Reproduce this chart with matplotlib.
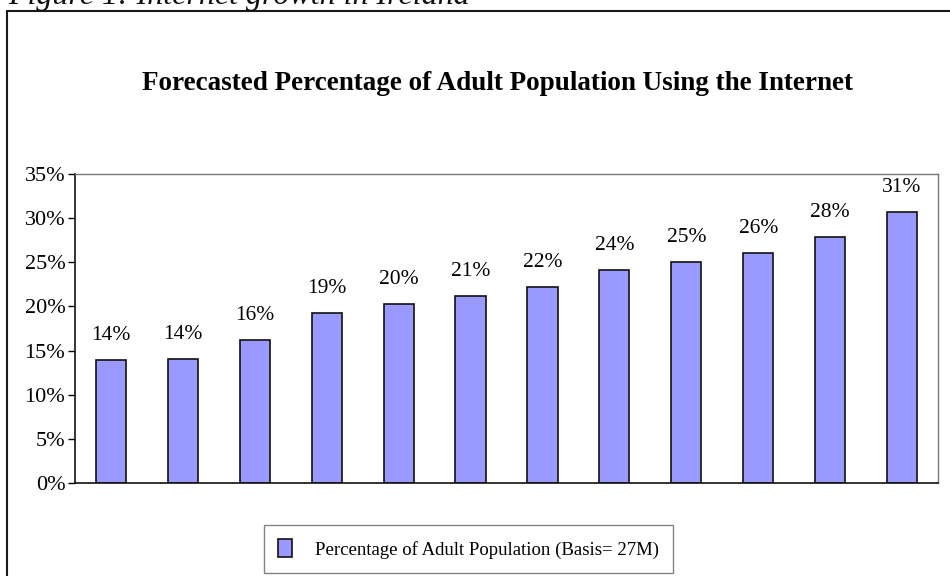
import numpy as np
import matplotlib.pyplot as plt
from matplotlib.patches import Rectangle

# Forecast share of adults online, one bar per period
periods = list(range(1, 13))
usage_pct = [13.9, 14.0, 16.2, 19.3, 20.3, 21.2, 22.2, 24.1, 25.0, 26.0, 27.9, 30.7]
y_ticks = [0, 5, 10, 15, 20, 25, 30, 35]

plt.rcParams['font.family'] = ['Liberation Serif', 'DejaVu Serif']

fig = plt.figure(figsize=(9.5, 5.76), dpi=100)
W, H = 950, 576

# Outer border around the chart (runs off the right/bottom edge)
fig.patches.append(Rectangle((7 / W, -0.05), 1.1, 1 - 11 / H + 0.05,
                             transform=fig.transFigure, fill=False,
                             edgecolor='#1a1a1a', linewidth=1.5))

# Caption sitting above the frame
fig.text(8 / W, 1 - 4 / H, 'Figure 1: Internet growth in Ireland',
         fontsize=23, style='italic', ha='left', va='baseline', color='#111111')

fig.text(0.5235, 1 - 83 / H,
         'Forecasted Percentage of Adult Population Using the Internet',
         fontsize=19.5, fontweight='bold', ha='center', va='center')

ax = fig.add_axes([75 / W, 1 - 483 / H, (938 - 75) / W, (483 - 174) / H])
x = np.arange(len(periods))
bars = ax.bar(x, usage_pct, width=0.42, color='#9999FF', edgecolor='#111111',
              linewidth=1.2, label='Percentage of Adult Population (Basis= 27M)')

for xi, v in zip(x, usage_pct):
    ax.text(xi, v + 1.7, f'{v:.0f}%', ha='center', va='bottom', fontsize=15.5)

ax.set_xlim(-0.5, len(periods) - 0.5)
ax.set_ylim(0, 35)
ax.set_yticks(y_ticks)
ax.set_yticklabels([f'{t}%' for t in y_ticks], fontsize=16)
ax.set_xticks([])
ax.tick_params(axis='y', direction='out', length=5, width=1, pad=2)

for side in ['left', 'bottom']:
    ax.spines[side].set_color('#111111')
    ax.spines[side].set_linewidth(1.2)
for side in ['top', 'right']:
    ax.spines[side].set_color('#777777')
    ax.spines[side].set_linewidth(1.0)

leg = fig.legend(handles=[bars], loc='center',
                 bbox_to_anchor=(468.5 / W, 1 - 549 / H), frameon=True,
                 fancybox=False, fontsize=13.5, handlelength=0.75, handleheight=1.1,
                 borderpad=0.75, handletextpad=1.2, borderaxespad=0)
leg.get_frame().set_edgecolor('#666666')
leg.get_frame().set_linewidth(1.0)

plt.savefig('out.png', dpi=100)
plt.close()
